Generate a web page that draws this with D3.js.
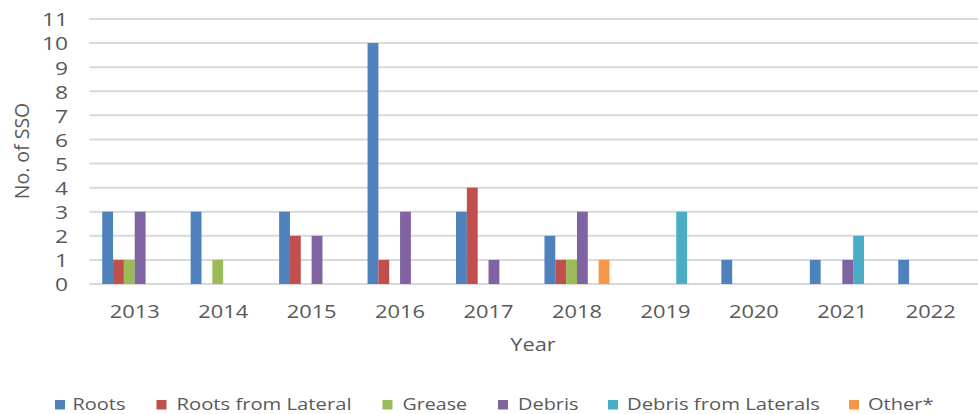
<!DOCTYPE html>
<html><head><meta charset="utf-8">
<script src="https://cdn.jsdelivr.net/npm/d3@7"></script>
<style>
html,body{margin:0;padding:0;background:#fff;}
svg{display:block;}
text{font-family:"Open Sans",sans-serif;fill:#595959;}
</style></head>
<body>
<svg id="chart" width="978" height="414"></svg>
<script>
const years = ["2013","2014","2015","2016","2017","2018","2019","2020","2021","2022"];
const seriesNames = ["Roots","Roots from Lateral","Grease","Debris","Debris from Laterals","Other*"];
const roots            = [3,3,3,10,3,2,0,1,1,1];
const rootsFromLateral = [1,0,2,1,4,1,0,0,0,0];
const grease           = [1,1,0,0,0,1,0,0,0,0];
const debris           = [3,0,2,3,1,3,0,0,1,0];
const debrisLaterals   = [0,0,0,0,0,0,3,0,2,0];
const other            = [0,0,0,0,0,1,0,0,0,0];
const yTicks = [0,1,2,3,4,5,6,7,8,9,10,11];
const colors = ["#4F81BD","#C0504D","#9BBB59","#8064A2","#4BACC6","#F79646"];

(function(){
const seriesValues = [roots, rootsFromLateral, grease, debris, debrisLaterals, other];
const svg = d3.select("#chart");

const mLeft = 90.5, mRight = 975, mTop = 19, mBottom = 284;
const x = d3.scaleBand().domain(years).range([mLeft, mRight]).paddingInner(0).paddingOuter(0);
const groupPad = 0.265;
const xs = d3.scaleBand().domain(seriesNames)
  .range([x.bandwidth()*groupPad/2, x.bandwidth()*(1-groupPad/2)]);
const y = d3.scaleLinear().domain([0, 11]).range([mBottom, mTop]);

// gridlines
svg.append("g").selectAll("line").data(yTicks).join("line")
  .attr("x1", mLeft - 1).attr("x2", 978)
  .attr("y1", d => y(d)).attr("y2", d => y(d))
  .attr("stroke", "#d9d9d9").attr("stroke-width", 2);

// y tick labels
const yAxis = d3.axisLeft(y).tickValues(yTicks).tickSize(0).tickPadding(0).tickFormat(d3.format("d"));
const ya = svg.append("g").attr("transform", "translate(68,0)").call(yAxis);
ya.select(".domain").remove();
ya.selectAll("text").attr("font-family", "Open Sans").attr("font-size", 19)
  .attr("fill", "#595959").attr("dy", "0.36em").attr("transform", "scale(1.2,1)");

// bars
const g = svg.append("g");
seriesValues.forEach((vals, si) => {
  g.append("g").selectAll("rect").data(vals.map((v, i) => ({v, yr: years[i]})).filter(d => d.v > 0))
    .join("rect")
    .attr("x", d => x(d.yr) + xs(seriesNames[si]))
    .attr("width", xs.bandwidth())
    .attr("y", d => y(d.v))
    .attr("height", d => y(0) - y(d.v))
    .attr("fill", colors[si]);
});

// x labels
const xAxis = d3.axisBottom(x).tickSize(0).tickPadding(0);
const xa = svg.append("g").attr("transform", `translate(0,${mBottom})`).call(xAxis);
xa.select(".domain").remove();
xa.selectAll("text").attr("font-family", "Open Sans").attr("font-size", 19)
  .attr("fill", "#595959").attr("dy", 0).attr("y", 34).attr("transform", "scale(1.15,1)");

// axis titles
svg.append("text").attr("transform", "translate(533,351) scale(1.15,1)").attr("text-anchor", "middle")
  .attr("font-size", 19).text("Year");
svg.append("text").attr("transform", "translate(29,151) rotate(-90)").attr("text-anchor", "middle")
  .attr("font-size", 19.5).text("No. of SSO");

// legend
const legendSquares = [55, 156.5, 382.5, 498, 608, 849];
const legendTextX = [72.5, 176.5, 402.5, 518, 627, 868];
const legendWidths = [53, 175, 64.5, 60.5, 193, 65.5];
const lg = svg.append("g");
seriesNames.forEach((n, i) => {
  lg.append("rect").attr("x", legendSquares[i]).attr("y", 400).attr("width", 10).attr("height", 9.5).attr("fill", colors[i]);
  lg.append("text").attr("x", legendTextX[i]).attr("y", 409.5).attr("font-size", 17)
    .attr("textLength", legendWidths[i]).attr("lengthAdjust", "spacingAndGlyphs").text(n);
});
})();
</script>
</body></html>
